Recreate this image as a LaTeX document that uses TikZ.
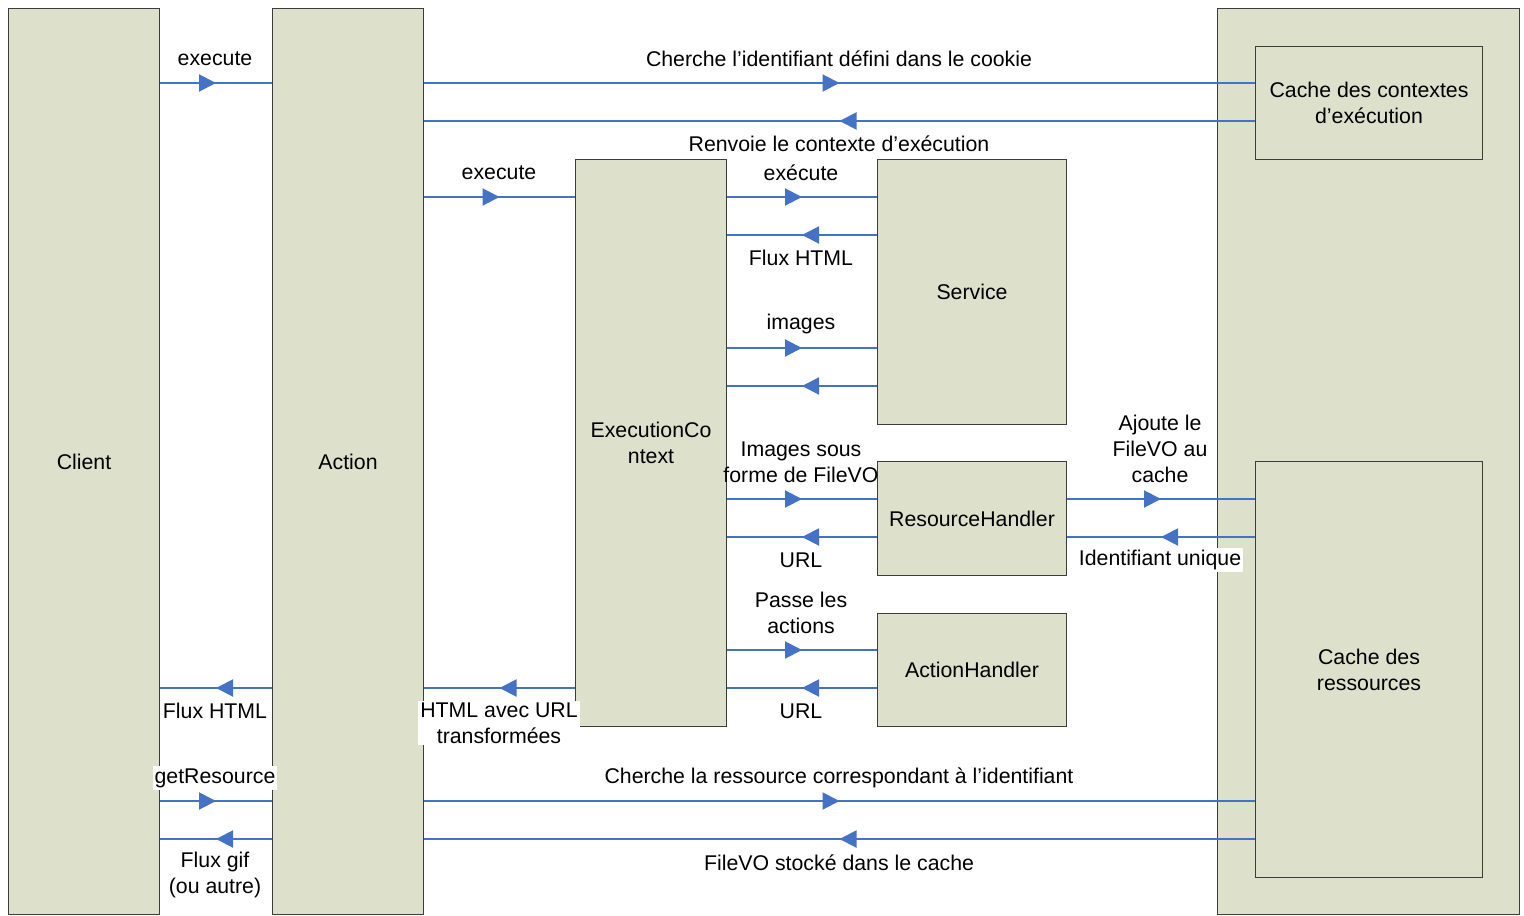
\documentclass[tikz,border=0pt]{standalone}
\usepackage{fontspec}
\setmainfont{Liberation Sans}
\usetikzlibrary{arrows.meta,decorations.markings}
\definecolor{boxfill}{RGB}{221,224,203}
\definecolor{flowblue}{RGB}{68,114,196}
\definecolor{boxline}{RGB}{60,60,60}
\begin{document}
\begin{tikzpicture}[x=0.5pt,y=-0.5pt,
  font=\fontsize{10.65}{13}\selectfont,
  blk/.style={draw=boxline, line width=0.5pt, fill=boxfill, anchor=north west, inner sep=0pt, align=center},
  flow/.style={draw=flowblue, line width=1pt, postaction={decorate},
    decoration={markings, mark=at position 0.5 with {\arrow[flowblue]{Triangle[length=8.5pt,width=8.5pt]}}}},
  lbl/.style={align=center, inner sep=1pt},
  wlbl/.style={lbl, fill=white}]
\useasboundingbox (0,0) rectangle (1524,915);
% boxes
\node[blk, minimum width=75.5pt, minimum height=453pt] (client) at (8,8) {Client};
\node[blk, minimum width=75.5pt, minimum height=453pt] (action) at (272,8) {Action};
\node[blk, minimum width=75.5pt, minimum height=283.5pt] (exec) at (575,159) {ExecutionCo\\ntext};
\node[blk, minimum width=94.5pt, minimum height=132.5pt] (service) at (877,159) {Service};
\node[blk, minimum width=94.5pt, minimum height=57pt] (rh) at (877,461) {ResourceHandler};
\node[blk, minimum width=94.5pt, minimum height=56.5pt] (ah) at (877,613) {ActionHandler};
\node[blk, minimum width=151pt, minimum height=453pt] (cachebig) at (1217,8) {};
\node[blk, minimum width=113.5pt, minimum height=56.5pt] (cachectx) at (1255,46) {Cache des contextes\\d’exécution};
\node[blk, minimum width=113.5pt, minimum height=208pt] (cacheres) at (1255,461) {Cache des\\ressources};
% levels
\coordinate (y83) at (0,83);
\coordinate (y121) at (0,121);
\coordinate (y197) at (0,197);
\coordinate (y235) at (0,235);
\coordinate (y348) at (0,348);
\coordinate (y386) at (0,386);
\coordinate (y499) at (0,499);
\coordinate (y537) at (0,537);
\coordinate (y650) at (0,650);
\coordinate (y688) at (0,688);
\coordinate (y801) at (0,801);
\coordinate (y839) at (0,839);
% connectors
\draw[flow] (client.east |- y83) -- (action.west |- y83);
\draw[flow] (action.east |- y83) -- (cachectx.west |- y83);
\draw[flow] (cachectx.west |- y121) -- (action.east |- y121);
\draw[flow] (action.east |- y197) -- (exec.west |- y197);
\draw[flow] (exec.east |- y197) -- (service.west |- y197);
\draw[flow] (service.west |- y235) -- (exec.east |- y235);
\draw[flow] (exec.east |- y348) -- (service.west |- y348);
\draw[flow] (service.west |- y386) -- (exec.east |- y386);
\draw[flow] (exec.east |- y499) -- (rh.west |- y499);
\draw[flow] (rh.west |- y537) -- (exec.east |- y537);
\draw[flow] (rh.east |- y499) -- (cacheres.west |- y499);
\draw[flow] (cacheres.west |- y537) -- (rh.east |- y537);
\draw[flow] (exec.east |- y650) -- (ah.west |- y650);
\draw[flow] (ah.west |- y688) -- (exec.east |- y688);
\draw[flow] (exec.west |- y688) -- (action.east |- y688);
\draw[flow] (action.west |- y688) -- (client.east |- y688);
\draw[flow] (client.east |- y801) -- (action.west |- y801);
\draw[flow] (action.east |- y801) -- (cacheres.west |- y801);
\draw[flow] (cacheres.west |- y839) -- (action.east |- y839);
\draw[flow] (action.west |- y839) -- (client.east |- y839);
% labels
\node[lbl] (l1) at (215,59) {execute};
\node[lbl] (l2) at (839,59) {Cherche l’identifiant défini dans le cookie};
\node[lbl] (l3) at (839,144) {Renvoie le contexte d’exécution};
\node[lbl] (l4) at (499,173) {execute};
\node[lbl] (l5) at (801,173) {exécute};
\node[lbl] (l6) at (801,258) {Flux HTML};
\node[lbl] (l7) at (801,324) {images};
\node[lbl] (l8) at (801,462) {Images sous\\forme de FileVO};
\node[lbl] (l9) at (801,560) {URL};
\node[lbl] (l10) at (1160,449) {Ajoute le\\FileVO au\\cache};
\node[wlbl] (l11) at (1160,560) {Identifiant unique};
\node[lbl] (l12) at (801,613) {Passe les\\actions};
\node[lbl] (l13) at (801,711) {URL};
\node[wlbl] (l14) at (499,723) {HTML avec URL\\transformées};
\node[lbl] (l15) at (215,711) {Flux HTML};
\node[wlbl] (l16) at (215,778) {getResource};
\node[lbl] (l17) at (839,778) {Cherche la ressource correspondant à l’identifiant};
\node[lbl] (l18) at (839,863) {FileVO stocké dans le cache};
\node[lbl] (l19) at (215,875) {Flux gif\\(ou autre)};
\end{tikzpicture}
\end{document}
